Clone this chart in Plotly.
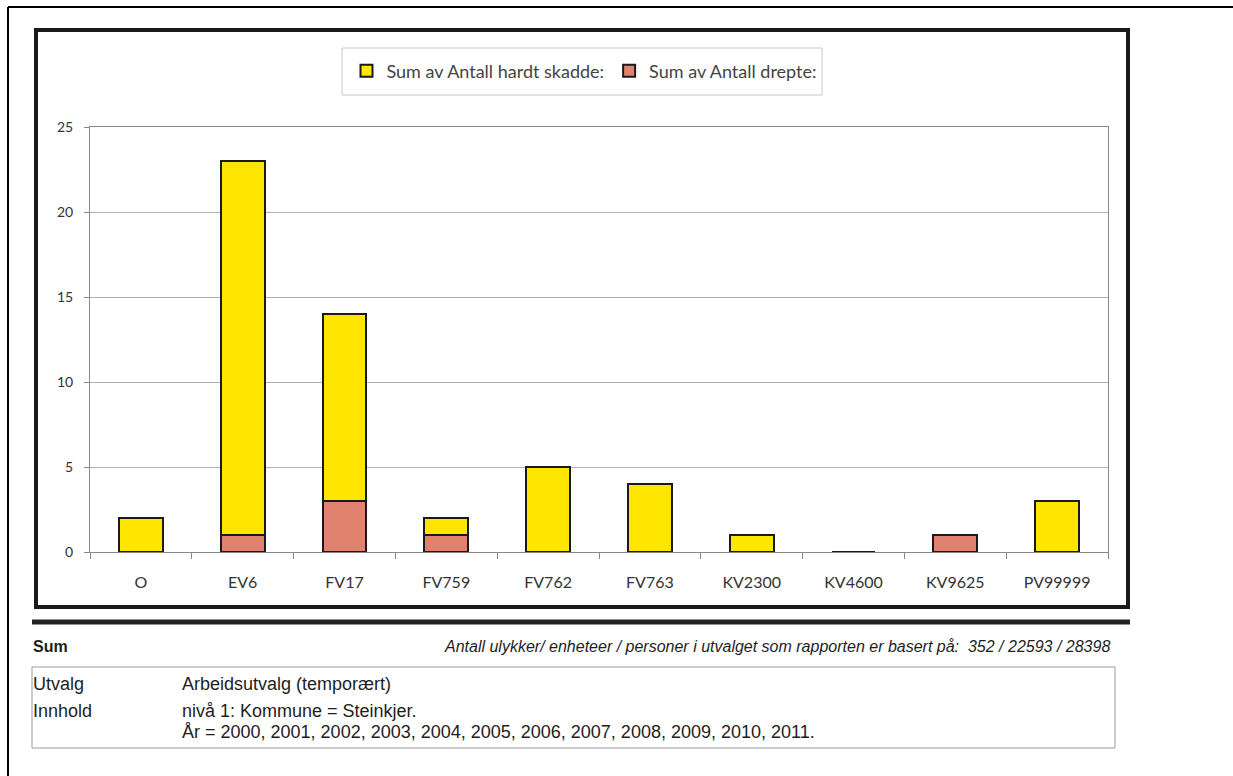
import plotly.graph_objects as go

categories = ["O", "EV6", "FV17", "FV759", "FV762", "FV763", "KV2300", "KV4600", "KV9625", "PV99999"]
drepte = [0, 1, 3, 1, 0, 0, 0, 0, 1, 0]
hardt_skadde = [2, 22, 11, 1, 5, 4, 1, 0, 0, 3]
y_ticks = [0, 5, 10, 15, 20, 25]

W, H = 1233, 776
L, R, T, B = 90, 1108, 127, 552

def px(x):
    return (x - L) / (R - L)

def py(y):
    return (B - y) / (B - T)

fig = go.Figure()
fig.add_trace(go.Bar(
    x=categories, y=drepte, name="Sum av Antall drepte:",
    marker=dict(color="#E0826E", line=dict(color="#1a1a1a", width=2)),
))
fig.add_trace(go.Bar(
    x=categories, y=hardt_skadde, name="Sum av Antall hardt skadde:",
    marker=dict(color="#FFE600", line=dict(color="#1a1a1a", width=2)),
))

shapes = [
    # page border lines
    dict(type="line", xref="paper", yref="paper", x0=px(8), x1=px(1240), y0=py(7), y1=py(7),
         line=dict(color="black", width=2)),
    dict(type="line", xref="paper", yref="paper", x0=px(8), x1=px(8), y0=py(7), y1=py(790),
         line=dict(color="black", width=2)),
    # chart frame
    dict(type="rect", xref="paper", yref="paper", x0=px(36), x1=px(1128), y0=py(607), y1=py(30),
         line=dict(color="#1a1a1a", width=4)),
    # legend box
    dict(type="rect", xref="paper", yref="paper", x0=px(342), x1=px(822), y0=py(95), y1=py(48),
         line=dict(color="#c8c8c8", width=1)),
    # separator bar
    dict(type="line", xref="paper", yref="paper", x0=px(32), x1=px(1130), y0=py(622), y1=py(622),
         line=dict(color="#222222", width=5)),
    # info box
    dict(type="rect", xref="paper", yref="paper", x0=px(32), x1=px(1115), y0=py(748), y1=py(667),
         line=dict(color="#9a9a9a", width=1)),
]

def ann(x, y, text, size=13, anchor="left", italic=False, family="Liberation Sans"):
    return dict(xref="paper", yref="paper", x=px(x), y=py(y), text=f"<i>{text}</i>" if italic else text,
                showarrow=False, xanchor=anchor, yanchor="middle",
                font=dict(family=family, size=size, color="#1e1e1e"))

annotations = [
    ann(31, 646, "<b>Sum</b>", 16),
    ann(1112, 646, "Antall ulykker/ enheteer / personer i utvalget som rapporten er basert på:  352 / 22593 / 28398",
        16, anchor="right", italic=True),
    ann(31, 684, "Utvalg", 18),
    ann(180, 684, "Arbeidsutvalg (temporært)", 18),
    ann(31, 711, "Innhold", 18),
    ann(180, 711, "nivå 1: Kommune = Steinkjer.", 18),
    ann(180, 732, "År = 2000, 2001, 2002, 2003, 2004, 2005, 2006, 2007, 2008, 2009, 2010, 2011.", 18),
]

fig.update_layout(
    width=W, height=H,
    margin=dict(l=L, r=W - R, t=T, b=H - B),
    paper_bgcolor="white", plot_bgcolor="white",
    barmode="stack", bargap=0.57,
    font=dict(family="Lato", size=14, color="#333333"),
    showlegend=True,
    legend=dict(orientation="h", traceorder="reversed", x=px(584), y=py(71), xanchor="center", yanchor="middle",
                bgcolor="rgba(0,0,0,0)", font=dict(family="Lato", size=18, color="#444444")),
    shapes=shapes, annotations=annotations,
    xaxis=dict(showline=True, linecolor="#888888", linewidth=1, mirror=True, ticks="outside",
               tickson="boundaries", ticklen=6, tickcolor="#888888", showgrid=False, ticklabelstandoff=16,
               tickfont=dict(family="Lato", size=16, color="#333333")),
    yaxis=dict(range=[0, 25], tickvals=y_ticks, showline=True, linecolor="#888888", linewidth=1, mirror=True,
               ticks="outside", ticklen=5, tickcolor="#888888", gridcolor="#b0b0b0", ticklabelstandoff=8,
               tickfont=dict(family="Lato", size=14, color="#333333"), zeroline=False),
)

fig.write_html("out.html", config={"displayModeBar": False},
               post_script="document.body.style.margin='0';document.body.style.overflow='hidden';")
